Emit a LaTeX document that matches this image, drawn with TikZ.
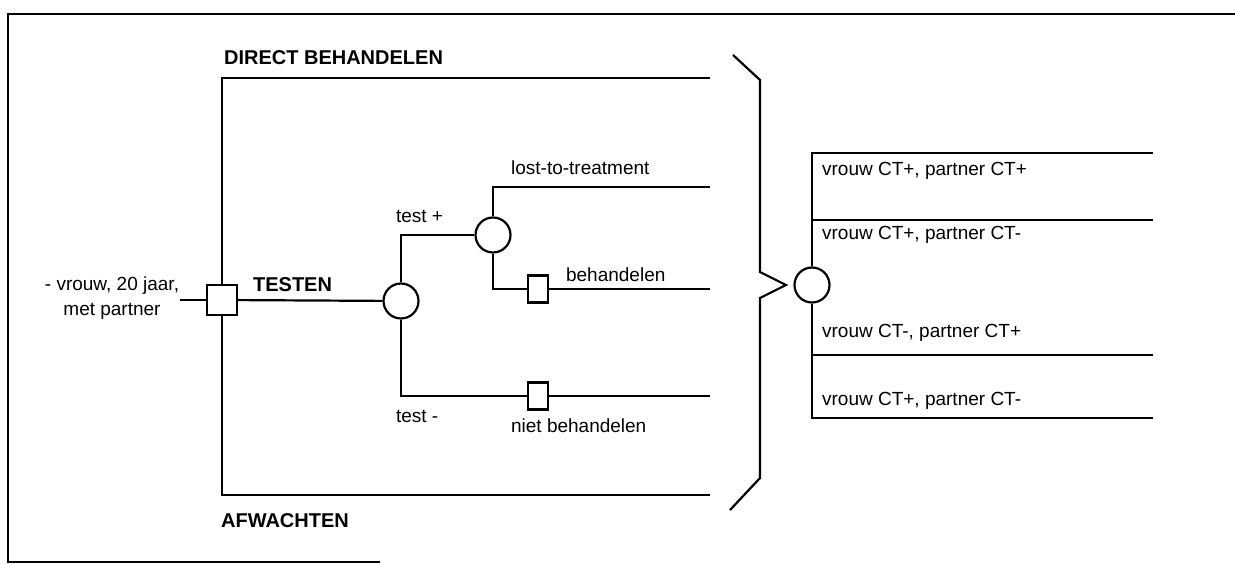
\documentclass[tikz,border=0pt]{standalone}
\usepackage{fontspec}
\setmainfont{Liberation Sans}
\begin{document}
\begin{tikzpicture}[x=0.5pt,y=-0.5pt,line width=1.1pt,
    every node/.style={font=\fontsize{9.5}{12.5}\selectfont},
    keuze/.style={draw,rectangle,minimum size=15pt,inner sep=0pt},
    kans/.style={draw,circle,minimum size=17.5pt,inner sep=0pt},
    actie/.style={draw,rectangle,minimum width=10pt,minimum height=13.5pt,inner sep=0pt},
    lbl/.style={anchor=base west,inner sep=0pt},
    kop/.style={lbl,font=\fontsize{10}{12}\selectfont\bfseries}]
  \useasboundingbox (0,0) rectangle (1235,565);
  \draw (1235,14) -- (8,14) -- (8,562) -- (380,562);

  \node[keuze] (start) at (222,300) {};
  \node[kans] (c1) at (401,301) {};
  \node[kans] (c2) at (493,235) {};
  \node[actie] (beh) at (538,289) {};
  \node[actie] (niet) at (538,396) {};
  \node[kans] (c3) at (812,285) {};
  \node[align=center,inner sep=0pt] (pat) at (112,298) {- vrouw, 20 jaar,\\met partner};

  \coordinate (dir) at (710,78);
  \coordinate (afw) at (710,495);
  \coordinate (lost) at (710,187);
  \coordinate (behE) at (710,289);
  \coordinate (nietE) at (710,396);
  \foreach \y [count=\k] in {153,220,355,418}
    \coordinate (o\k) at (1153,\y);

  \draw (pat.east |- start.west) -- (start);
  \draw (start.north) |- (dir);
  \draw (start.south) |- (afw);
  \draw (start) -- (c1);
  \draw (c1.north) |- (c2);
  \draw (c1.south) |- (niet) -- (nietE);
  \draw (c2.north) |- (lost);
  \draw (c2.south) |- (beh) -- (behE);
  \draw (c3.north) |- (o1);
  \draw (c3.south) |- (o4);
  \draw (c3.north |- o2) -- (o2);
  \draw (c3.south |- o3) -- (o3);

  \draw (733,55) -- (760,80) -- (760,272) -- (786,285) -- (760,298) -- (760,478) -- (730,510);

  \node[kop] (direct) at (223,65) {DIRECT BEHANDELEN};
  \node[kop] (afwacht) at (220,528) {AFWACHTEN};
  \node[kop] (testen) at (252,292) {TESTEN};
  \node[lbl] (tplus) at (395,223) {test +};
  \node[lbl] (tmin) at (395,423) {test -};
  \node[lbl] (ltt) at (510,175) {lost-to-treatment};
  \node[lbl] (behL) at (565,282) {behandelen};
  \node[lbl] (nietL) at (510,433) {niet behandelen};
  \foreach \t/\y [count=\k] in {{vrouw CT+, partner CT+}/176,{vrouw CT+, partner CT-}/240,
      {vrouw CT-, partner CT+}/338,{vrouw CT+, partner CT-}/406}
    \node[lbl] (uitk\k) at (821,\y) {\t};
\end{tikzpicture}
\end{document}
